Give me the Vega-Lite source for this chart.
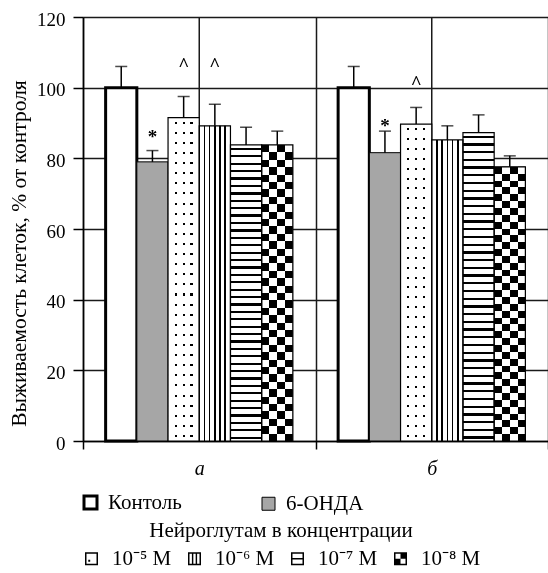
{
  "$schema": "https://vega.github.io/schema/vega-lite/v6.json",
  "width": 465,
  "height": 424,
  "autosize": {"type": "none"},
  "padding": {"left": 83, "top": 17, "right": 0, "bottom": 132},
  "background": "white",
  "config": {
    "view": {"stroke": null},
    "font": "Liberation Serif",
    "axis": {
      "labelFont": "Liberation Serif",
      "titleFont": "Liberation Serif",
      "labelColor": "black",
      "titleColor": "black",
      "domainColor": "black",
      "tickColor": "black",
      "gridColor": "#1a1a1a",
      "gridOpacity": 1,
      "gridWidth": 1.5,
      "domainWidth": 1.5,
      "tickWidth": 1.5
    },
    "legend": {
      "labelFont": "Liberation Serif",
      "labelFontSize": 21,
      "labelColor": "black",
      "titleFont": "Liberation Serif",
      "titleFontSize": 21,
      "titleFontWeight": "normal",
      "titleColor": "black",
      "titleLimit": 0,
      "symbolType": "square",
      "symbolSize": 169,
      "symbolOpacity": 1,
      "padding": 0
    }
  },
  "datasets": {
    "bars": [
      {"group": "а", "series": "Контоль", "value": 100, "err": 106},
      {"group": "а", "series": "6-ОНДА", "value": 79, "err": 82.2},
      {"group": "а", "series": "10⁻⁵ М", "value": 91.5, "err": 97.5},
      {"group": "а", "series": "10⁻⁶ М", "value": 89.2, "err": 95.3},
      {"group": "а", "series": "10⁻⁷ М", "value": 83.8, "err": 88.8},
      {"group": "а", "series": "10⁻⁸ М", "value": 83.8, "err": 87.7},
      {"group": "б", "series": "Контоль", "value": 100, "err": 106},
      {"group": "б", "series": "6-ОНДА", "value": 81.6, "err": 87.7},
      {"group": "б", "series": "10⁻⁵ М", "value": 89.7, "err": 94.4},
      {"group": "б", "series": "10⁻⁶ М", "value": 85.2, "err": 89.2},
      {"group": "б", "series": "10⁻⁷ М", "value": 87.3, "err": 92.3},
      {"group": "б", "series": "10⁻⁸ М", "value": 77.6, "err": 80.7}
    ],
    "notes": [
      {"group": "а", "series": "6-ОНДА", "y": 86.8, "label": "*"},
      {"group": "а", "series": "10⁻⁵ М", "y": 107.2, "label": "^"},
      {"group": "а", "series": "10⁻⁶ М", "y": 107.2, "label": "^"},
      {"group": "б", "series": "6-ОНДА", "y": 90, "label": "*"},
      {"group": "б", "series": "10⁻⁵ М", "y": 102.2, "label": "^"}
    ]
  },
  "layer": [
    {
      "data": {"name": "bars"},
      "transform": [{"aggregate": [{"op": "count", "as": "n"}], "groupby": ["group"]}],
      "mark": {"type": "rule", "color": "#1a1a1a", "strokeWidth": 1.5},
      "encoding": {
        "x": {"field": "group", "type": "nominal", "title": null, "scale": {"domain": ["а", "б"], "paddingInner": 0, "paddingOuter": 0},
          "axis": {"tickBand": "extent", "grid": true, "tickSize": 8, "labelAngle": 0, "labelFontSize": 20, "labelFontStyle": "italic", "labelPadding": 9, "title": null}}
      }
    },
    {
      "data": {"name": "bars"},
      "transform": [{"filter": {"field": "series", "oneOf": ["Контоль", "6-ОНДА"]}}],
      "mark": {"type": "bar", "stroke": "black"},
      "encoding": {
        "x": {"field": "group", "type": "nominal", "title": null, "scale": {"domain": ["а", "б"], "paddingInner": 0, "paddingOuter": 0}},
        "xOffset": {"field": "series", "type": "nominal", "scale": {"domain": ["Контоль", "6-ОНДА", "10⁻⁵ М", "10⁻⁶ М", "10⁻⁷ М", "10⁻⁸ М"], "paddingInner": 0, "paddingOuter": 0.725}},
        "y": {"field": "value", "type": "quantitative", "title": "Выживаемость клеток, % от контроля", "scale": {"domain": [0, 120], "nice": false},
          "axis": {"values": [0, 20, 40, 60, 80, 100, 120], "grid": true, "tickSize": 10, "labelPadding": 8, "labelFontSize": 19, "labelOffset": 2, "titleFontSize": 21.5, "titleFontWeight": "normal", "titleX": -64, "titleY": 236, "titleBaseline": "middle", "titleAngle": 270}},
        "color": {"field": "series", "type": "nominal", "scale": {"domain": ["Контоль", "6-ОНДА"], "range": ["white", "#a6a6a6"]},
          "legend": {"orient": "none", "legendX": -3, "legendY": 475, "direction": "horizontal", "title": null, "labelOffset": 7, "columnPadding": 76}},
        "strokeWidth": {"field": "series", "type": "nominal", "scale": {"domain": ["Контоль", "6-ОНДА"], "range": [3, 1], "padding": 0},
          "legend": {"orient": "none", "legendX": -3, "legendY": 475, "direction": "horizontal", "title": null, "labelOffset": 7, "columnPadding": 76}}
      }
    },
    {
      "data": {"name": "bars"},
      "transform": [{"filter": "datum.series === '10⁻⁵ М'"}],
      "mark": {"type": "bar", "strokeWidth": 0, "fill": {"gradient": "linear", "x1": 0, "y1": 0, "x2": 0, "y2": 1, "stops": [
        {"offset":0,"color":"white"},
        {"offset":0.0125,"color":"white"},{"offset":0.0125,"color":"black"},{"offset":0.01875,"color":"black"},{"offset":0.01875,"color":"white"},
        {"offset":0.04375,"color":"white"},{"offset":0.04375,"color":"black"},{"offset":0.05,"color":"black"},{"offset":0.05,"color":"white"},
        {"offset":0.075,"color":"white"},{"offset":0.075,"color":"black"},{"offset":0.08125,"color":"black"},{"offset":0.08125,"color":"white"},
        {"offset":0.10625,"color":"white"},{"offset":0.10625,"color":"black"},{"offset":0.1125,"color":"black"},{"offset":0.1125,"color":"white"},
        {"offset":0.1375,"color":"white"},{"offset":0.1375,"color":"black"},{"offset":0.14375,"color":"black"},{"offset":0.14375,"color":"white"},
        {"offset":0.16875,"color":"white"},{"offset":0.16875,"color":"black"},{"offset":0.175,"color":"black"},{"offset":0.175,"color":"white"},
        {"offset":0.2,"color":"white"},{"offset":0.2,"color":"black"},{"offset":0.20625,"color":"black"},{"offset":0.20625,"color":"white"},
        {"offset":0.23125,"color":"white"},{"offset":0.23125,"color":"black"},{"offset":0.2375,"color":"black"},{"offset":0.2375,"color":"white"},
        {"offset":0.2625,"color":"white"},{"offset":0.2625,"color":"black"},{"offset":0.26875,"color":"black"},{"offset":0.26875,"color":"white"},
        {"offset":0.29375,"color":"white"},{"offset":0.29375,"color":"black"},{"offset":0.3,"color":"black"},{"offset":0.3,"color":"white"},
        {"offset":0.325,"color":"white"},{"offset":0.325,"color":"black"},{"offset":0.33125,"color":"black"},{"offset":0.33125,"color":"white"},
        {"offset":0.35625,"color":"white"},{"offset":0.35625,"color":"black"},{"offset":0.3625,"color":"black"},{"offset":0.3625,"color":"white"},
        {"offset":0.3875,"color":"white"},{"offset":0.3875,"color":"black"},{"offset":0.39375,"color":"black"},{"offset":0.39375,"color":"white"},
        {"offset":0.41875,"color":"white"},{"offset":0.41875,"color":"black"},{"offset":0.425,"color":"black"},{"offset":0.425,"color":"white"},
        {"offset":0.45,"color":"white"},{"offset":0.45,"color":"black"},{"offset":0.45625,"color":"black"},{"offset":0.45625,"color":"white"},
        {"offset":0.48125,"color":"white"},{"offset":0.48125,"color":"black"},{"offset":0.4875,"color":"black"},{"offset":0.4875,"color":"white"},
        {"offset":0.5125,"color":"white"},{"offset":0.5125,"color":"black"},{"offset":0.51875,"color":"black"},{"offset":0.51875,"color":"white"},
        {"offset":0.54375,"color":"white"},{"offset":0.54375,"color":"black"},{"offset":0.55,"color":"black"},{"offset":0.55,"color":"white"},
        {"offset":0.575,"color":"white"},{"offset":0.575,"color":"black"},{"offset":0.58125,"color":"black"},{"offset":0.58125,"color":"white"},
        {"offset":0.60625,"color":"white"},{"offset":0.60625,"color":"black"},{"offset":0.6125,"color":"black"},{"offset":0.6125,"color":"white"},
        {"offset":0.6375,"color":"white"},{"offset":0.6375,"color":"black"},{"offset":0.64375,"color":"black"},{"offset":0.64375,"color":"white"},
        {"offset":0.66875,"color":"white"},{"offset":0.66875,"color":"black"},{"offset":0.675,"color":"black"},{"offset":0.675,"color":"white"},
        {"offset":0.7,"color":"white"},{"offset":0.7,"color":"black"},{"offset":0.70625,"color":"black"},{"offset":0.70625,"color":"white"},
        {"offset":0.73125,"color":"white"},{"offset":0.73125,"color":"black"},{"offset":0.7375,"color":"black"},{"offset":0.7375,"color":"white"},
        {"offset":0.7625,"color":"white"},{"offset":0.7625,"color":"black"},{"offset":0.76875,"color":"black"},{"offset":0.76875,"color":"white"},
        {"offset":0.79375,"color":"white"},{"offset":0.79375,"color":"black"},{"offset":0.8,"color":"black"},{"offset":0.8,"color":"white"},
        {"offset":0.825,"color":"white"},{"offset":0.825,"color":"black"},{"offset":0.83125,"color":"black"},{"offset":0.83125,"color":"white"},
        {"offset":0.85625,"color":"white"},{"offset":0.85625,"color":"black"},{"offset":0.8625,"color":"black"},{"offset":0.8625,"color":"white"},
        {"offset":0.8875,"color":"white"},{"offset":0.8875,"color":"black"},{"offset":0.89375,"color":"black"},{"offset":0.89375,"color":"white"},
        {"offset":0.91875,"color":"white"},{"offset":0.91875,"color":"black"},{"offset":0.925,"color":"black"},{"offset":0.925,"color":"white"},
        {"offset":0.95,"color":"white"},{"offset":0.95,"color":"black"},{"offset":0.95625,"color":"black"},{"offset":0.95625,"color":"white"},
        {"offset":0.98125,"color":"white"},{"offset":0.98125,"color":"black"},{"offset":0.9875,"color":"black"},{"offset":0.9875,"color":"white"},
        {"offset":1,"color":"white"}
      ]}},
      "encoding": {
        "x": {"field": "group", "type": "nominal", "title": null, "scale": {"domain": ["а", "б"], "paddingInner": 0, "paddingOuter": 0}},
        "xOffset": {"field": "series", "type": "nominal", "scale": {"domain": ["Контоль", "6-ОНДА", "10⁻⁵ М", "10⁻⁶ М", "10⁻⁷ М", "10⁻⁸ М"], "paddingInner": 0, "paddingOuter": 0.725}},
        "y": {"field": "value", "type": "quantitative", "title": "Выживаемость клеток, % от контроля", "scale": {"domain": [0, 120], "nice": false}}
      }
    },
    {
      "data": {"name": "bars"},
      "transform": [{"filter": "datum.series === '10⁻⁵ М'"}],
      "mark": {"type": "bar", "strokeWidth": 0, "fill": {"gradient": "linear", "x1": 0, "y1": 0, "x2": 1, "y2": 0, "stops": [
        {"offset":0,"color":"white"},{"offset":0.215,"color":"white"},{"offset":0.215,"color":"rgba(255,255,255,0)"},{"offset":0.285,"color":"rgba(255,255,255,0)"},
        {"offset":0.285,"color":"white"},{"offset":0.465,"color":"white"},{"offset":0.465,"color":"rgba(255,255,255,0)"},{"offset":0.535,"color":"rgba(255,255,255,0)"},
        {"offset":0.535,"color":"white"},{"offset":0.715,"color":"white"},{"offset":0.715,"color":"rgba(255,255,255,0)"},{"offset":0.785,"color":"rgba(255,255,255,0)"},
        {"offset":0.785,"color":"white"},{"offset":1,"color":"white"}
      ]}},
      "encoding": {
        "x": {"field": "group", "type": "nominal", "title": null, "scale": {"domain": ["а", "б"], "paddingInner": 0, "paddingOuter": 0}},
        "xOffset": {"field": "series", "type": "nominal", "scale": {"domain": ["Контоль", "6-ОНДА", "10⁻⁵ М", "10⁻⁶ М", "10⁻⁷ М", "10⁻⁸ М"], "paddingInner": 0, "paddingOuter": 0.725}},
        "y": {"field": "value", "type": "quantitative", "title": "Выживаемость клеток, % от контроля", "scale": {"domain": [0, 120], "nice": false}}
      }
    },
    {
      "data": {"name": "bars"},
      "transform": [{"filter": "datum.series === '10⁻⁶ М'"}],
      "mark": {"type": "bar", "strokeWidth": 0, "fill": {"gradient": "linear", "x1": 0, "y1": 0, "x2": 1, "y2": 0, "stops": [
        {"offset":0,"color":"white"},
        {"offset":0.1417,"color":"white"},{"offset":0.1417,"color":"black"},{"offset":0.1917,"color":"black"},{"offset":0.1917,"color":"white"},
        {"offset":0.3083,"color":"white"},{"offset":0.3083,"color":"black"},{"offset":0.3583,"color":"black"},{"offset":0.3583,"color":"white"},
        {"offset":0.475,"color":"white"},{"offset":0.475,"color":"black"},{"offset":0.525,"color":"black"},{"offset":0.525,"color":"white"},
        {"offset":0.6417,"color":"white"},{"offset":0.6417,"color":"black"},{"offset":0.6917,"color":"black"},{"offset":0.6917,"color":"white"},
        {"offset":0.8083,"color":"white"},{"offset":0.8083,"color":"black"},{"offset":0.8583,"color":"black"},{"offset":0.8583,"color":"white"},
        {"offset":1,"color":"white"}
      ]}},
      "encoding": {
        "x": {"field": "group", "type": "nominal", "title": null, "scale": {"domain": ["а", "б"], "paddingInner": 0, "paddingOuter": 0}},
        "xOffset": {"field": "series", "type": "nominal", "scale": {"domain": ["Контоль", "6-ОНДА", "10⁻⁵ М", "10⁻⁶ М", "10⁻⁷ М", "10⁻⁸ М"], "paddingInner": 0, "paddingOuter": 0.725}},
        "y": {"field": "value", "type": "quantitative", "title": "Выживаемость клеток, % от контроля", "scale": {"domain": [0, 120], "nice": false}}
      }
    },
    {
      "data": {"name": "bars"},
      "transform": [{"filter": "datum.series === '10⁻⁷ М'"}],
      "mark": {"type": "bar", "strokeWidth": 0, "fill": {"gradient": "linear", "x1": 0, "y1": 0, "x2": 0, "y2": 1, "stops": [
        {"offset":0,"color":"white"},
        {"offset":0.01,"color":"white"},{"offset":0.01,"color":"black"},{"offset":0.0175,"color":"black"},{"offset":0.0175,"color":"white"},
        {"offset":0.035,"color":"white"},{"offset":0.035,"color":"black"},{"offset":0.0425,"color":"black"},{"offset":0.0425,"color":"white"},
        {"offset":0.06,"color":"white"},{"offset":0.06,"color":"black"},{"offset":0.0675,"color":"black"},{"offset":0.0675,"color":"white"},
        {"offset":0.085,"color":"white"},{"offset":0.085,"color":"black"},{"offset":0.0925,"color":"black"},{"offset":0.0925,"color":"white"},
        {"offset":0.11,"color":"white"},{"offset":0.11,"color":"black"},{"offset":0.1175,"color":"black"},{"offset":0.1175,"color":"white"},
        {"offset":0.135,"color":"white"},{"offset":0.135,"color":"black"},{"offset":0.1425,"color":"black"},{"offset":0.1425,"color":"white"},
        {"offset":0.16,"color":"white"},{"offset":0.16,"color":"black"},{"offset":0.1675,"color":"black"},{"offset":0.1675,"color":"white"},
        {"offset":0.185,"color":"white"},{"offset":0.185,"color":"black"},{"offset":0.1925,"color":"black"},{"offset":0.1925,"color":"white"},
        {"offset":0.21,"color":"white"},{"offset":0.21,"color":"black"},{"offset":0.2175,"color":"black"},{"offset":0.2175,"color":"white"},
        {"offset":0.235,"color":"white"},{"offset":0.235,"color":"black"},{"offset":0.2425,"color":"black"},{"offset":0.2425,"color":"white"},
        {"offset":0.26,"color":"white"},{"offset":0.26,"color":"black"},{"offset":0.2675,"color":"black"},{"offset":0.2675,"color":"white"},
        {"offset":0.285,"color":"white"},{"offset":0.285,"color":"black"},{"offset":0.2925,"color":"black"},{"offset":0.2925,"color":"white"},
        {"offset":0.31,"color":"white"},{"offset":0.31,"color":"black"},{"offset":0.3175,"color":"black"},{"offset":0.3175,"color":"white"},
        {"offset":0.335,"color":"white"},{"offset":0.335,"color":"black"},{"offset":0.3425,"color":"black"},{"offset":0.3425,"color":"white"},
        {"offset":0.36,"color":"white"},{"offset":0.36,"color":"black"},{"offset":0.3675,"color":"black"},{"offset":0.3675,"color":"white"},
        {"offset":0.385,"color":"white"},{"offset":0.385,"color":"black"},{"offset":0.3925,"color":"black"},{"offset":0.3925,"color":"white"},
        {"offset":0.41,"color":"white"},{"offset":0.41,"color":"black"},{"offset":0.4175,"color":"black"},{"offset":0.4175,"color":"white"},
        {"offset":0.435,"color":"white"},{"offset":0.435,"color":"black"},{"offset":0.4425,"color":"black"},{"offset":0.4425,"color":"white"},
        {"offset":0.46,"color":"white"},{"offset":0.46,"color":"black"},{"offset":0.4675,"color":"black"},{"offset":0.4675,"color":"white"},
        {"offset":0.485,"color":"white"},{"offset":0.485,"color":"black"},{"offset":0.4925,"color":"black"},{"offset":0.4925,"color":"white"},
        {"offset":0.51,"color":"white"},{"offset":0.51,"color":"black"},{"offset":0.5175,"color":"black"},{"offset":0.5175,"color":"white"},
        {"offset":0.535,"color":"white"},{"offset":0.535,"color":"black"},{"offset":0.5425,"color":"black"},{"offset":0.5425,"color":"white"},
        {"offset":0.56,"color":"white"},{"offset":0.56,"color":"black"},{"offset":0.5675,"color":"black"},{"offset":0.5675,"color":"white"},
        {"offset":0.585,"color":"white"},{"offset":0.585,"color":"black"},{"offset":0.5925,"color":"black"},{"offset":0.5925,"color":"white"},
        {"offset":0.61,"color":"white"},{"offset":0.61,"color":"black"},{"offset":0.6175,"color":"black"},{"offset":0.6175,"color":"white"},
        {"offset":0.635,"color":"white"},{"offset":0.635,"color":"black"},{"offset":0.6425,"color":"black"},{"offset":0.6425,"color":"white"},
        {"offset":0.66,"color":"white"},{"offset":0.66,"color":"black"},{"offset":0.6675,"color":"black"},{"offset":0.6675,"color":"white"},
        {"offset":0.685,"color":"white"},{"offset":0.685,"color":"black"},{"offset":0.6925,"color":"black"},{"offset":0.6925,"color":"white"},
        {"offset":0.71,"color":"white"},{"offset":0.71,"color":"black"},{"offset":0.7175,"color":"black"},{"offset":0.7175,"color":"white"},
        {"offset":0.735,"color":"white"},{"offset":0.735,"color":"black"},{"offset":0.7425,"color":"black"},{"offset":0.7425,"color":"white"},
        {"offset":0.76,"color":"white"},{"offset":0.76,"color":"black"},{"offset":0.7675,"color":"black"},{"offset":0.7675,"color":"white"},
        {"offset":0.785,"color":"white"},{"offset":0.785,"color":"black"},{"offset":0.7925,"color":"black"},{"offset":0.7925,"color":"white"},
        {"offset":0.81,"color":"white"},{"offset":0.81,"color":"black"},{"offset":0.8175,"color":"black"},{"offset":0.8175,"color":"white"},
        {"offset":0.835,"color":"white"},{"offset":0.835,"color":"black"},{"offset":0.8425,"color":"black"},{"offset":0.8425,"color":"white"},
        {"offset":0.86,"color":"white"},{"offset":0.86,"color":"black"},{"offset":0.8675,"color":"black"},{"offset":0.8675,"color":"white"},
        {"offset":0.885,"color":"white"},{"offset":0.885,"color":"black"},{"offset":0.8925,"color":"black"},{"offset":0.8925,"color":"white"},
        {"offset":0.91,"color":"white"},{"offset":0.91,"color":"black"},{"offset":0.9175,"color":"black"},{"offset":0.9175,"color":"white"},
        {"offset":0.935,"color":"white"},{"offset":0.935,"color":"black"},{"offset":0.9425,"color":"black"},{"offset":0.9425,"color":"white"},
        {"offset":0.96,"color":"white"},{"offset":0.96,"color":"black"},{"offset":0.9675,"color":"black"},{"offset":0.9675,"color":"white"},
        {"offset":0.985,"color":"white"},{"offset":0.985,"color":"black"},{"offset":0.9925,"color":"black"},{"offset":0.9925,"color":"white"},
        {"offset":1,"color":"white"}
      ]}},
      "encoding": {
        "x": {"field": "group", "type": "nominal", "title": null, "scale": {"domain": ["а", "б"], "paddingInner": 0, "paddingOuter": 0}},
        "xOffset": {"field": "series", "type": "nominal", "scale": {"domain": ["Контоль", "6-ОНДА", "10⁻⁵ М", "10⁻⁶ М", "10⁻⁷ М", "10⁻⁸ М"], "paddingInner": 0, "paddingOuter": 0.725}},
        "y": {"field": "value", "type": "quantitative", "title": "Выживаемость клеток, % от контроля", "scale": {"domain": [0, 120], "nice": false}}
      }
    },
    {
      "data": {"name": "bars"},
      "transform": [{"filter": "datum.series === '10⁻⁸ М'"}],
      "mark": {"type": "bar", "strokeWidth": 0, "fill": {"gradient": "linear", "x1": 0, "y1": 0, "x2": 0, "y2": 1, "stops": [
        {"offset":0,"color":"black"},{"offset":0.025,"color":"black"},{"offset":0.025,"color":"white"},{"offset":0.05,"color":"white"},
        {"offset":0.05,"color":"black"},{"offset":0.075,"color":"black"},{"offset":0.075,"color":"white"},{"offset":0.1,"color":"white"},
        {"offset":0.1,"color":"black"},{"offset":0.125,"color":"black"},{"offset":0.125,"color":"white"},{"offset":0.15,"color":"white"},
        {"offset":0.15,"color":"black"},{"offset":0.175,"color":"black"},{"offset":0.175,"color":"white"},{"offset":0.2,"color":"white"},
        {"offset":0.2,"color":"black"},{"offset":0.225,"color":"black"},{"offset":0.225,"color":"white"},{"offset":0.25,"color":"white"},
        {"offset":0.25,"color":"black"},{"offset":0.275,"color":"black"},{"offset":0.275,"color":"white"},{"offset":0.3,"color":"white"},
        {"offset":0.3,"color":"black"},{"offset":0.325,"color":"black"},{"offset":0.325,"color":"white"},{"offset":0.35,"color":"white"},
        {"offset":0.35,"color":"black"},{"offset":0.375,"color":"black"},{"offset":0.375,"color":"white"},{"offset":0.4,"color":"white"},
        {"offset":0.4,"color":"black"},{"offset":0.425,"color":"black"},{"offset":0.425,"color":"white"},{"offset":0.45,"color":"white"},
        {"offset":0.45,"color":"black"},{"offset":0.475,"color":"black"},{"offset":0.475,"color":"white"},{"offset":0.5,"color":"white"},
        {"offset":0.5,"color":"black"},{"offset":0.525,"color":"black"},{"offset":0.525,"color":"white"},{"offset":0.55,"color":"white"},
        {"offset":0.55,"color":"black"},{"offset":0.575,"color":"black"},{"offset":0.575,"color":"white"},{"offset":0.6,"color":"white"},
        {"offset":0.6,"color":"black"},{"offset":0.625,"color":"black"},{"offset":0.625,"color":"white"},{"offset":0.65,"color":"white"},
        {"offset":0.65,"color":"black"},{"offset":0.675,"color":"black"},{"offset":0.675,"color":"white"},{"offset":0.7,"color":"white"},
        {"offset":0.7,"color":"black"},{"offset":0.725,"color":"black"},{"offset":0.725,"color":"white"},{"offset":0.75,"color":"white"},
        {"offset":0.75,"color":"black"},{"offset":0.775,"color":"black"},{"offset":0.775,"color":"white"},{"offset":0.8,"color":"white"},
        {"offset":0.8,"color":"black"},{"offset":0.825,"color":"black"},{"offset":0.825,"color":"white"},{"offset":0.85,"color":"white"},
        {"offset":0.85,"color":"black"},{"offset":0.875,"color":"black"},{"offset":0.875,"color":"white"},{"offset":0.9,"color":"white"},
        {"offset":0.9,"color":"black"},{"offset":0.925,"color":"black"},{"offset":0.925,"color":"white"},{"offset":0.95,"color":"white"},
        {"offset":0.95,"color":"black"},{"offset":0.975,"color":"black"},{"offset":0.975,"color":"white"},{"offset":1,"color":"white"}
      ]}},
      "encoding": {
        "x": {"field": "group", "type": "nominal", "title": null, "scale": {"domain": ["а", "б"], "paddingInner": 0, "paddingOuter": 0}},
        "xOffset": {"field": "series", "type": "nominal", "scale": {"domain": ["Контоль", "6-ОНДА", "10⁻⁵ М", "10⁻⁶ М", "10⁻⁷ М", "10⁻⁸ М"], "paddingInner": 0, "paddingOuter": 0.725}},
        "y": {"field": "value", "type": "quantitative", "title": "Выживаемость клеток, % от контроля", "scale": {"domain": [0, 120], "nice": false}}
      }
    },
    {
      "data": {"name": "bars"},
      "transform": [{"filter": "datum.series === '10⁻⁸ М'"}],
      "mark": {"type": "bar", "strokeWidth": 0, "blend": "difference", "fill": {"gradient": "linear", "x1": 0, "y1": 0, "x2": 1, "y2": 0, "stops": [
        {"offset":0,"color":"rgba(255,255,255,0)"},{"offset":0.25,"color":"rgba(255,255,255,0)"},{"offset":0.25,"color":"white"},{"offset":0.5,"color":"white"},
        {"offset":0.5,"color":"rgba(255,255,255,0)"},{"offset":0.75,"color":"rgba(255,255,255,0)"},{"offset":0.75,"color":"white"},{"offset":1,"color":"white"}
      ]}},
      "encoding": {
        "x": {"field": "group", "type": "nominal", "title": null, "scale": {"domain": ["а", "б"], "paddingInner": 0, "paddingOuter": 0}},
        "xOffset": {"field": "series", "type": "nominal", "scale": {"domain": ["Контоль", "6-ОНДА", "10⁻⁵ М", "10⁻⁶ М", "10⁻⁷ М", "10⁻⁸ М"], "paddingInner": 0, "paddingOuter": 0.725}},
        "y": {"field": "value", "type": "quantitative", "title": "Выживаемость клеток, % от контроля", "scale": {"domain": [0, 120], "nice": false}}
      }
    },
    {
      "data": {"name": "bars"},
      "transform": [{"filter": {"field": "series", "oneOf": ["10⁻⁵ М", "10⁻⁶ М", "10⁻⁷ М", "10⁻⁸ М"]}}],
      "mark": {"type": "bar", "fill": "white", "fillOpacity": 0, "stroke": "black", "strokeWidth": 1.2},
      "encoding": {
        "x": {"field": "group", "type": "nominal", "title": null, "scale": {"domain": ["а", "б"], "paddingInner": 0, "paddingOuter": 0}},
        "xOffset": {"field": "series", "type": "nominal", "scale": {"domain": ["Контоль", "6-ОНДА", "10⁻⁵ М", "10⁻⁶ М", "10⁻⁷ М", "10⁻⁸ М"], "paddingInner": 0, "paddingOuter": 0.725}},
        "y": {"field": "value", "type": "quantitative", "title": "Выживаемость клеток, % от контроля", "scale": {"domain": [0, 120], "nice": false}}
      }
    },
    {
      "data": {"name": "bars"},
      "transform": [{"filter": {"field": "series", "oneOf": ["10⁻⁵ М", "10⁻⁶ М", "10⁻⁷ М", "10⁻⁸ М"]}}],
      "mark": {"type": "point", "filled": true, "color": "black", "opacity": 0},
      "encoding": {
        "x": {"field": "group", "type": "nominal", "title": null, "scale": {"domain": ["а", "б"], "paddingInner": 0, "paddingOuter": 0}},
        "xOffset": {"field": "series", "type": "nominal", "scale": {"domain": ["Контоль", "6-ОНДА", "10⁻⁵ М", "10⁻⁶ М", "10⁻⁷ М", "10⁻⁸ М"], "paddingInner": 0, "paddingOuter": 0.725}},
        "y": {"field": "value", "type": "quantitative", "title": "Выживаемость клеток, % от контроля", "scale": {"domain": [0, 120], "nice": false}},
        "shape": {"field": "series", "type": "nominal",
          "scale": {"domain": ["10⁻⁵ М", "10⁻⁶ М", "10⁻⁷ М", "10⁻⁸ М"], "range": [
            "M-1,-1H1V1H-1Z M-0.77,-0.77V0.77H0.77V-0.77Z M-0.5,0.15H-0.2V0.45H-0.5Z",
            "M-1,-1H1V1H-1Z M-0.77,-0.77V0.77H0.77V-0.77Z M-0.4,-0.77H-0.18V0.77H-0.4Z M0.18,-0.77H0.4V0.77H0.18Z",
            "M-1,-1H1V1H-1Z M-0.77,-0.77V0.77H0.77V-0.77Z M-0.77,-0.12H0.77V0.12H-0.77Z",
            "M-1,-1H1V1H-1Z M-0.77,-0.77V0.77H0.77V-0.77Z M0,-0.77H0.77V0H0Z M-0.77,0H0V0.77H-0.77Z"
          ]},
          "legend": {"orient": "none", "legendX": -2, "legendY": 503, "direction": "horizontal", "title": "Нейроглутам в концентрации", "titleAnchor": "middle", "titlePadding": 7, "labelOffset": 10, "columnPadding": 12}}
      }
    },
    {
      "data": {"name": "bars"},
      "mark": {"type": "rule", "color": "black", "strokeWidth": 1.5},
      "encoding": {
        "x": {"field": "group", "type": "nominal", "title": null, "scale": {"domain": ["а", "б"], "paddingInner": 0, "paddingOuter": 0}},
        "xOffset": {"field": "series", "type": "nominal", "scale": {"domain": ["Контоль", "6-ОНДА", "10⁻⁵ М", "10⁻⁶ М", "10⁻⁷ М", "10⁻⁸ М"], "paddingInner": 0, "paddingOuter": 0.725}},
        "y": {"field": "value", "type": "quantitative", "title": "Выживаемость клеток, % от контроля", "scale": {"domain": [0, 120], "nice": false}},
        "y2": {"field": "err"}
      }
    },
    {
      "data": {"name": "bars"},
      "mark": {"type": "tick", "color": "black", "thickness": 1.5, "size": 12},
      "encoding": {
        "x": {"field": "group", "type": "nominal", "title": null, "scale": {"domain": ["а", "б"], "paddingInner": 0, "paddingOuter": 0}},
        "xOffset": {"field": "series", "type": "nominal", "scale": {"domain": ["Контоль", "6-ОНДА", "10⁻⁵ М", "10⁻⁶ М", "10⁻⁷ М", "10⁻⁸ М"], "paddingInner": 0, "paddingOuter": 0.725}},
        "y": {"field": "err", "type": "quantitative", "title": "Выживаемость клеток, % от контроля", "scale": {"domain": [0, 120], "nice": false}}
      }
    },
    {
      "data": {"name": "notes"},
      "mark": {"type": "text", "font": "Liberation Serif", "fontSize": 19, "fontWeight": "bold", "color": "black", "baseline": "middle", "dy": 3},
      "encoding": {
        "x": {"field": "group", "type": "nominal", "title": null, "scale": {"domain": ["а", "б"], "paddingInner": 0, "paddingOuter": 0}},
        "xOffset": {"field": "series", "type": "nominal", "scale": {"domain": ["Контоль", "6-ОНДА", "10⁻⁵ М", "10⁻⁶ М", "10⁻⁷ М", "10⁻⁸ М"], "paddingInner": 0, "paddingOuter": 0.725}},
        "y": {"field": "y", "type": "quantitative", "title": "Выживаемость клеток, % от контроля", "scale": {"domain": [0, 120], "nice": false}},
        "text": {"field": "label", "type": "nominal"}
      }
    }
  ]
}
